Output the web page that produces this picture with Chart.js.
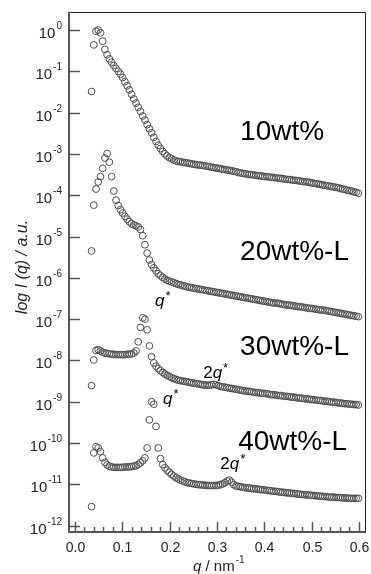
<!DOCTYPE html>
<html>
<head>
<meta charset="utf-8">
<script src="https://cdn.jsdelivr.net/npm/chart.js@4/dist/chart.umd.min.js"></script>
<style>
  html, body { margin: 0; padding: 0; background: #fff; overflow: hidden; }
  canvas { display: block; }
</style>
</head>
<body>
<canvas id="saxsChart" width="371" height="574"></canvas>
<script>
// scattering vector q / nm^-1 (same grid for all samples)
var q = [
  0.0350, 0.0397, 0.0444, 0.0491, 0.0538, 0.0585, 0.0632, 0.0679, 0.0726, 0.0773,
  0.0820, 0.0867, 0.0914, 0.0961, 0.1008, 0.1055, 0.1102, 0.1149, 0.1196, 0.1243,
  0.1290, 0.1337, 0.1384, 0.1431, 0.1478, 0.1525, 0.1572, 0.1619, 0.1666, 0.1713,
  0.1760, 0.1807, 0.1854, 0.1901, 0.1948, 0.1995, 0.2042, 0.2089, 0.2136, 0.2183,
  0.2230, 0.2277, 0.2324, 0.2371, 0.2418, 0.2465, 0.2512, 0.2559, 0.2606, 0.2653,
  0.2700, 0.2747, 0.2794, 0.2841, 0.2888, 0.2935, 0.2982, 0.3029, 0.3076, 0.3123,
  0.3170, 0.3217, 0.3264, 0.3311, 0.3358, 0.3405, 0.3452, 0.3499, 0.3546, 0.3593,
  0.3640, 0.3687, 0.3734, 0.3781, 0.3828, 0.3875, 0.3922, 0.3969, 0.4016, 0.4063,
  0.4110, 0.4157, 0.4204, 0.4251, 0.4298, 0.4345, 0.4392, 0.4439, 0.4486, 0.4533,
  0.4580, 0.4627, 0.4674, 0.4721, 0.4768, 0.4815, 0.4862, 0.4909, 0.4956, 0.5003,
  0.5050, 0.5097, 0.5144, 0.5191, 0.5238, 0.5285, 0.5332, 0.5379, 0.5426, 0.5473,
  0.5520, 0.5567, 0.5614, 0.5661, 0.5708, 0.5755, 0.5802, 0.5849, 0.5896, 0.5943,
  0.5990
];

// log10 of I(q), one array per sample
var log10wt = [
  -1.49, -0.36, -0.03, 0.00, -0.07, -0.27, -0.47, -0.60, -0.70, -0.78,
  -0.86, -0.93, -1.00, -1.07, -1.15, -1.25, -1.35, -1.45, -1.56, -1.67,
  -1.77, -1.87, -1.97, -2.08, -2.18, -2.29, -2.39, -2.49, -2.60, -2.70,
  -2.79, -2.87, -2.94, -3.00, -3.05, -3.09, -3.12, -3.15, -3.17, -3.18,
  -3.19, -3.20, -3.21, -3.22, -3.23, -3.24, -3.25, -3.26, -3.27, -3.27,
  -3.28, -3.29, -3.30, -3.31, -3.32, -3.33, -3.34, -3.35, -3.36, -3.37,
  -3.38, -3.39, -3.40, -3.41, -3.42, -3.43, -3.45, -3.46, -3.47, -3.48,
  -3.49, -3.50, -3.50, -3.51, -3.52, -3.53, -3.53, -3.54, -3.55, -3.55,
  -3.56, -3.57, -3.57, -3.58, -3.59, -3.59, -3.60, -3.61, -3.62, -3.62,
  -3.63, -3.64, -3.64, -3.65, -3.66, -3.67, -3.67, -3.68, -3.69, -3.70,
  -3.71, -3.72, -3.73, -3.74, -3.75, -3.76, -3.77, -3.78, -3.79, -3.80,
  -3.81, -3.82, -3.84, -3.85, -3.86, -3.88, -3.89, -3.90, -3.92, -3.93,
  -3.95
];
var log20wtL = [
  -5.35, -4.24, -3.85, -3.68, -3.55, -3.35, -3.10, -2.99, -3.20, -3.55,
  -3.90, -4.12, -4.25, -4.35, -4.43, -4.51, -4.58, -4.64, -4.69, -4.72,
  -4.74, -4.77, -4.83, -4.98, -5.20, -5.40, -5.57, -5.68, -5.76, -5.83,
  -5.90, -5.95, -5.99, -6.03, -6.06, -6.08, -6.10, -6.12, -6.14, -6.16,
  -6.17, -6.19, -6.20, -6.22, -6.23, -6.24, -6.25, -6.26, -6.27, -6.28,
  -6.29, -6.30, -6.31, -6.32, -6.33, -6.34, -6.35, -6.36, -6.37, -6.38,
  -6.39, -6.40, -6.41, -6.42, -6.43, -6.44, -6.45, -6.46, -6.47, -6.48,
  -6.49, -6.50, -6.51, -6.52, -6.53, -6.54, -6.55, -6.56, -6.57, -6.58,
  -6.59, -6.60, -6.61, -6.61, -6.62, -6.63, -6.64, -6.65, -6.66, -6.66,
  -6.67, -6.68, -6.69, -6.70, -6.70, -6.71, -6.72, -6.73, -6.74, -6.74,
  -6.75, -6.76, -6.77, -6.78, -6.78, -6.79, -6.80, -6.81, -6.82, -6.83,
  -6.84, -6.85, -6.86, -6.87, -6.88, -6.89, -6.90, -6.91, -6.92, -6.93,
  -6.94
];
var log30wtL = [
  -8.61, -7.99, -7.76, -7.74, -7.77, -7.80, -7.82, -7.83, -7.84, -7.85,
  -7.85, -7.86, -7.86, -7.86, -7.86, -7.86, -7.85, -7.85, -7.84, -7.82,
  -7.77, -7.55, -7.20, -6.97, -7.00, -7.26, -7.65, -7.91, -8.06, -8.14,
  -8.20, -8.25, -8.29, -8.33, -8.36, -8.39, -8.42, -8.44, -8.46, -8.48,
  -8.49, -8.50, -8.51, -8.52, -8.53, -8.54, -8.55, -8.56, -8.57, -8.58,
  -8.59, -8.60, -8.60, -8.60, -8.59, -8.58, -8.59, -8.61, -8.63, -8.64,
  -8.65, -8.66, -8.67, -8.68, -8.69, -8.70, -8.71, -8.72, -8.73, -8.74,
  -8.75, -8.75, -8.76, -8.77, -8.78, -8.78, -8.79, -8.80, -8.80, -8.81,
  -8.82, -8.83, -8.83, -8.84, -8.85, -8.85, -8.86, -8.87, -8.87, -8.88,
  -8.89, -8.89, -8.90, -8.91, -8.91, -8.92, -8.93, -8.93, -8.94, -8.95,
  -8.95, -8.96, -8.97, -8.97, -8.98, -8.99, -8.99, -9.00, -9.01, -9.01,
  -9.02, -9.03, -9.03, -9.04, -9.05, -9.05, -9.06, -9.06, -9.07, -9.07,
  -9.08
];
var log40wtL = [
  -11.54, -10.24, -10.09, -10.12, -10.21, -10.36, -10.47, -10.53, -10.56, -10.58,
  -10.59, -10.59, -10.59, -10.59, -10.59, -10.58, -10.58, -10.58, -10.57, -10.56,
  -10.55, -10.52, -10.48, -10.43, -10.36, -10.12, -9.44, -9.00, -9.06, -9.60,
  -10.12, -10.38, -10.52, -10.60, -10.66, -10.71, -10.76, -10.80, -10.84, -10.87,
  -10.90, -10.92, -10.94, -10.96, -10.97, -10.98, -10.99, -11.00, -11.01, -11.01,
  -11.02, -11.02, -11.03, -11.03, -11.03, -11.03, -11.03, -11.02, -11.01, -10.99,
  -10.96, -10.92, -10.90, -10.95, -11.01, -11.04, -11.05, -11.06, -11.07, -11.08,
  -11.09, -11.09, -11.10, -11.11, -11.11, -11.12, -11.13, -11.13, -11.14, -11.15,
  -11.15, -11.16, -11.17, -11.17, -11.18, -11.19, -11.19, -11.20, -11.21, -11.21,
  -11.22, -11.22, -11.23, -11.24, -11.24, -11.25, -11.25, -11.26, -11.26, -11.27,
  -11.27, -11.28, -11.28, -11.29, -11.29, -11.30, -11.30, -11.31, -11.31, -11.31,
  -11.32, -11.32, -11.32, -11.33, -11.33, -11.33, -11.34, -11.34, -11.34, -11.34,
  -11.34
];

var sampleNames = ['10wt%', '20wt%-L', '30wt%-L', '40wt%-L'];
var sampleLogs = [log10wt, log20wtL, log30wtL, log40wtL];

// axis ticks
var xTicks = [0.0, 0.1, 0.2, 0.3, 0.4, 0.5, 0.6];
var xTickLabels = ['0.0', '0.1', '0.2', '0.3', '0.4', '0.5', '0.6'];
var xMinorTicks = [0.02, 0.04, 0.06, 0.08, 0.12, 0.14, 0.16, 0.18, 0.22, 0.24, 0.26, 0.28,
                   0.32, 0.34, 0.36, 0.38, 0.42, 0.44, 0.46, 0.48, 0.52, 0.54, 0.56, 0.58];
var yTickExps = [0, -1, -2, -3, -4, -5, -6, -7, -8, -9, -10, -11, -12];

// text annotations: [q, log10 I at baseline]
var sampleLabelPos = [[0.349, -2.66], [0.349, -5.57], [0.349, -7.87], [0.345, -10.17]];
var peakLabels = [
  ['', 0.169, -6.68],
  ['', 0.186, -9.06],
  ['2', 0.271, -8.43],
  ['2', 0.307, -10.63]
];

var FONT = '"Liberation Sans", Arial, Helvetica, sans-serif';

var datasets = sampleLogs.map(function (arr, k) {
  return {
    label: sampleNames[k],
    data: arr.map(function (v, i) { return { x: q[i], y: Math.pow(10, v) }; }),
    showLine: false,
    pointStyle: 'circle',
    pointRadius: 3.4,
    pointBorderWidth: 1,
    pointBorderColor: '#4d4d4d',
    pointBackgroundColor: 'rgba(0,0,0,0)'
  };
});

var axesPlugin = {
  id: 'saxsAxes',
  afterDraw: function (chart) {
    var ctx = chart.ctx;
    var a = chart.chartArea;
    var xs = chart.scales.x;
    var ys = chart.scales.y;
    ctx.save();

    // thin frame top / right
    ctx.strokeStyle = '#222';
    ctx.lineWidth = 1;
    ctx.beginPath();
    ctx.moveTo(a.left, a.top + 0.5);
    ctx.lineTo(a.right + 0.5, a.top + 0.5);
    ctx.lineTo(a.right + 0.5, a.bottom);
    ctx.stroke();

    // y ticks (inward) + labels 10^n
    ctx.strokeStyle = '#555';
    ctx.lineWidth = 1.5;
    yTickExps.forEach(function (e) {
      var py = Math.round(ys.getPixelForValue(Math.pow(10, e))) + 0.5;
      ctx.beginPath();
      ctx.moveTo(a.left, py);
      ctx.lineTo(a.left + 11, py);
      ctx.stroke();

      var expTxt = e === 0 ? '0' : '-' + Math.abs(e);
      ctx.fillStyle = '#222';
      ctx.textBaseline = 'alphabetic';
      ctx.font = '10px ' + FONT;
      var ew = ctx.measureText(expTxt).width;
      var right = 62;
      ctx.textAlign = 'left';
      ctx.fillText(expTxt, right - ew, py - 2);
      ctx.font = '15px ' + FONT;
      ctx.textAlign = 'right';
      ctx.fillText('10', right - ew - 1, py + 7);
    });

    // x ticks (inward) + labels
    xMinorTicks.forEach(function (v) {
      var px = Math.round(xs.getPixelForValue(v)) + 0.5;
      ctx.beginPath();
      ctx.moveTo(px, a.bottom);
      ctx.lineTo(px, a.bottom - 5);
      ctx.stroke();
    });
    ctx.font = '14px ' + FONT;
    ctx.textAlign = 'center';
    ctx.fillStyle = '#222';
    xTicks.forEach(function (v, i) {
      var px = Math.round(xs.getPixelForValue(v)) + 0.5;
      ctx.beginPath();
      ctx.moveTo(px, a.bottom);
      ctx.lineTo(px, a.bottom - 10);
      ctx.stroke();
      ctx.fillText(xTickLabels[i], px, 552);
    });

    // left and bottom axis lines
    ctx.strokeStyle = '#555';
    ctx.lineWidth = 2;
    ctx.beginPath();
    ctx.moveTo(a.left, a.top);
    ctx.lineTo(a.left, a.bottom);
    ctx.lineTo(a.right + 1, a.bottom);
    ctx.stroke();

    // y axis title
    ctx.save();
    ctx.translate(27, 267);
    ctx.rotate(-Math.PI / 2);
    ctx.font = 'italic 16px ' + FONT;
    ctx.textAlign = 'center';
    ctx.fillStyle = '#222';
    ctx.fillText('log I (q) / a.u.', 0, 0);
    ctx.restore();

    // x axis title: q / nm^-1
    ctx.textAlign = 'left';
    ctx.fillStyle = '#222';
    var tx = 193;
    ctx.font = 'italic 15px ' + FONT;
    ctx.fillText('q', tx, 571);
    tx += ctx.measureText('q').width;
    ctx.font = '15px ' + FONT;
    ctx.fillText(' / nm', tx, 571);
    tx += ctx.measureText(' / nm').width + 1;
    ctx.font = '10px ' + FONT;
    ctx.fillText('-1', tx, 563);

    // sample labels
    ctx.font = '28px ' + FONT;
    ctx.fillStyle = '#000';
    sampleLabelPos.forEach(function (p, k) {
      ctx.fillText(sampleNames[k], xs.getPixelForValue(p[0]), ys.getPixelForValue(Math.pow(10, p[1])));
    });

    // peak labels q*, 2q*
    peakLabels.forEach(function (p) {
      var lx = xs.getPixelForValue(p[1]);
      var ly = ys.getPixelForValue(Math.pow(10, p[2]));
      if (p[0]) {
        ctx.font = '17px ' + FONT;
        ctx.fillText(p[0], lx, ly);
        lx += ctx.measureText(p[0]).width;
      }
      ctx.font = 'italic 17px ' + FONT;
      ctx.fillText('q', lx, ly);
      lx += ctx.measureText('q').width + 1;
      ctx.font = '13px ' + FONT;
      ctx.fillText('*', lx, ly - 6);
    });

    ctx.restore();
  }
};

var ctx = document.getElementById('saxsChart').getContext('2d');
var saxsChart = new Chart(ctx, {
  type: 'scatter',
  data: { datasets: datasets },
  options: {
    responsive: false,
    animation: false,
    devicePixelRatio: 1,
    layout: { padding: { left: 69, top: 12, right: 6, bottom: 42 } },
    plugins: { legend: { display: false }, tooltip: { enabled: false } },
    scales: {
      x: { type: 'linear', min: -0.0127, max: 0.6131, display: false },
      y: { type: 'logarithmic', min: 7.0e-13, max: 2.73, display: false }
    }
  },
  plugins: [axesPlugin]
});
</script>
</body>
</html>
